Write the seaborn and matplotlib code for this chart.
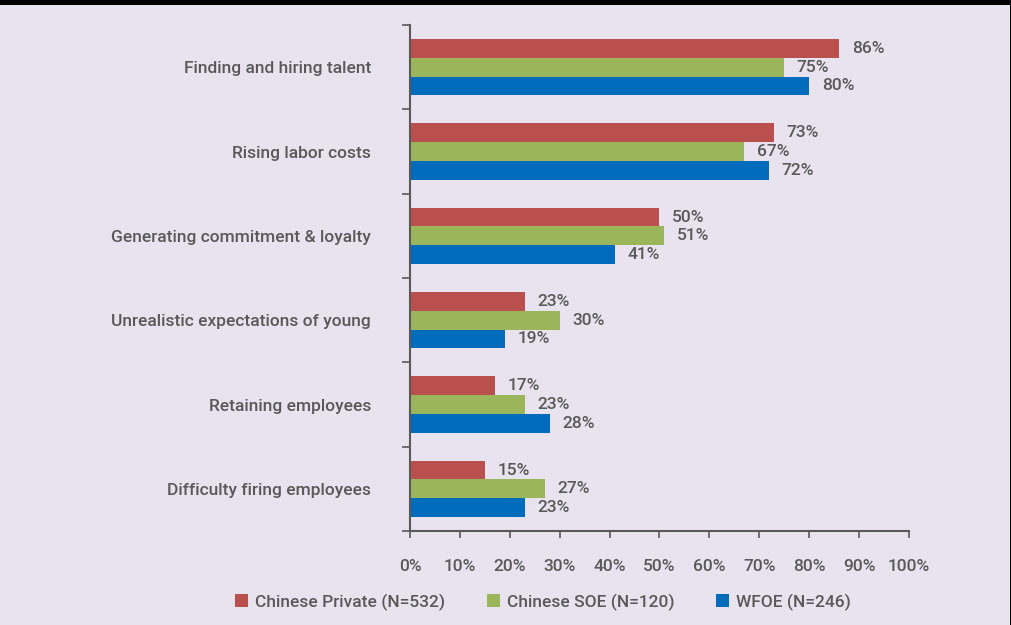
import matplotlib
matplotlib.use("Agg")
import matplotlib.pyplot as plt
from matplotlib.patches import Rectangle
from matplotlib.ticker import FixedLocator
import seaborn as sns
import pandas as pd

categories = [
    "Finding and hiring talent",
    "Rising labor costs",
    "Generating commitment & loyalty",
    "Unrealistic expectations of young",
    "Retaining employees",
    "Difficulty firing employees",
]
series_names = ["Chinese Private (N=532)", "Chinese SOE (N=120)", "WFOE (N=246)"]
private_vals = [86, 73, 50, 23, 17, 15]
soe_vals = [75, 67, 51, 30, 23, 27]
wfoe_vals = [80, 72, 41, 19, 28, 23]
x_ticks = [0, 10, 20, 30, 40, 50, 60, 70, 80, 90, 100]

colors = ["#b9504d", "#9bb55a", "#006cbb"]
bg = "#e8e3ee"
grey = "#595959"

rows = []
for name, vals in zip(series_names, [private_vals, soe_vals, wfoe_vals]):
    for cat, v in zip(categories, vals):
        rows.append({"category": cat, "series": name, "value": v})
df = pd.DataFrame(rows)

sns.set_style("ticks")
plt.rcParams["font.family"] = ["Roboto", "DejaVu Sans"]
plt.rcParams["font.weight"] = "medium"
fs = 12.5

fig = plt.figure(figsize=(10.12, 6.25), dpi=100, facecolor=bg)
ax = fig.add_axes([410 / 1012, 1 - 531 / 625, 499 / 1012, 506 / 625])
ax.set_facecolor(bg)

sns.barplot(
    data=df, y="category", x="value", hue="series", orient="h",
    order=categories, hue_order=series_names, palette=colors,
    width=0.667, gap=0, ax=ax, legend=False, saturation=1,
    edgecolor="none", linewidth=0,
)

# value labels at the end of each bar
for container in ax.containers:
    ax.bar_label(container, labels=[f"{int(round(w))}%" for w in container.datavalues],
                 padding=9, color=grey, fontsize=fs)

ax.set_xlim(0, 100)
ax.set_ylim(len(categories) - 0.5, -0.5)
ax.set_xticks(x_ticks)
ax.set_xticklabels([f"{t}%" for t in x_ticks], color=grey, fontsize=fs)
ax.set_yticks(range(len(categories)))
ax.set_yticklabels(categories, color=grey, fontsize=fs)
ax.tick_params(axis="y", which="major", length=0, pad=28)
ax.tick_params(axis="x", length=5, width=1.2, color=grey, direction="out", pad=15)
ax.set_xlabel("")
ax.set_ylabel("")

# category boundary ticks on the left spine
bounds = [i - 0.5 for i in range(len(categories) + 1)]
ax.yaxis.set_minor_locator(FixedLocator(bounds))
ax.tick_params(axis="y", which="minor", length=6, width=1.2, color=grey, direction="out", left=True)

for side in ["top", "right"]:
    ax.spines[side].set_visible(False)
for side in ["left", "bottom"]:
    ax.spines[side].set_color(grey)
    ax.spines[side].set_linewidth(1.5)

# legend row
handles = [Rectangle((0, 0), 1, 1, facecolor=c, edgecolor="none") for c in colors]
leg = fig.legend(handles, series_names, loc="center", bbox_to_anchor=(543 / 1012, 1 - 602 / 625),
                 ncol=3, frameon=False, fontsize=fs, handlelength=0.75, handleheight=0.75,
                 columnspacing=2.4, handletextpad=0.4)
for t in leg.get_texts():
    t.set_color(grey)

# black frame band on top and thin edge at right
fig.patches.append(Rectangle((0, 1 - 5 / 625), 1, 5 / 625, transform=fig.transFigure,
                             facecolor="black", edgecolor="none", zorder=10))
fig.patches.append(Rectangle((1 - 1.5 / 1012, 0), 1.5 / 1012, 1, transform=fig.transFigure,
                             facecolor="black", edgecolor="none", zorder=10))

fig.savefig("out.png", dpi=100, facecolor=bg)
